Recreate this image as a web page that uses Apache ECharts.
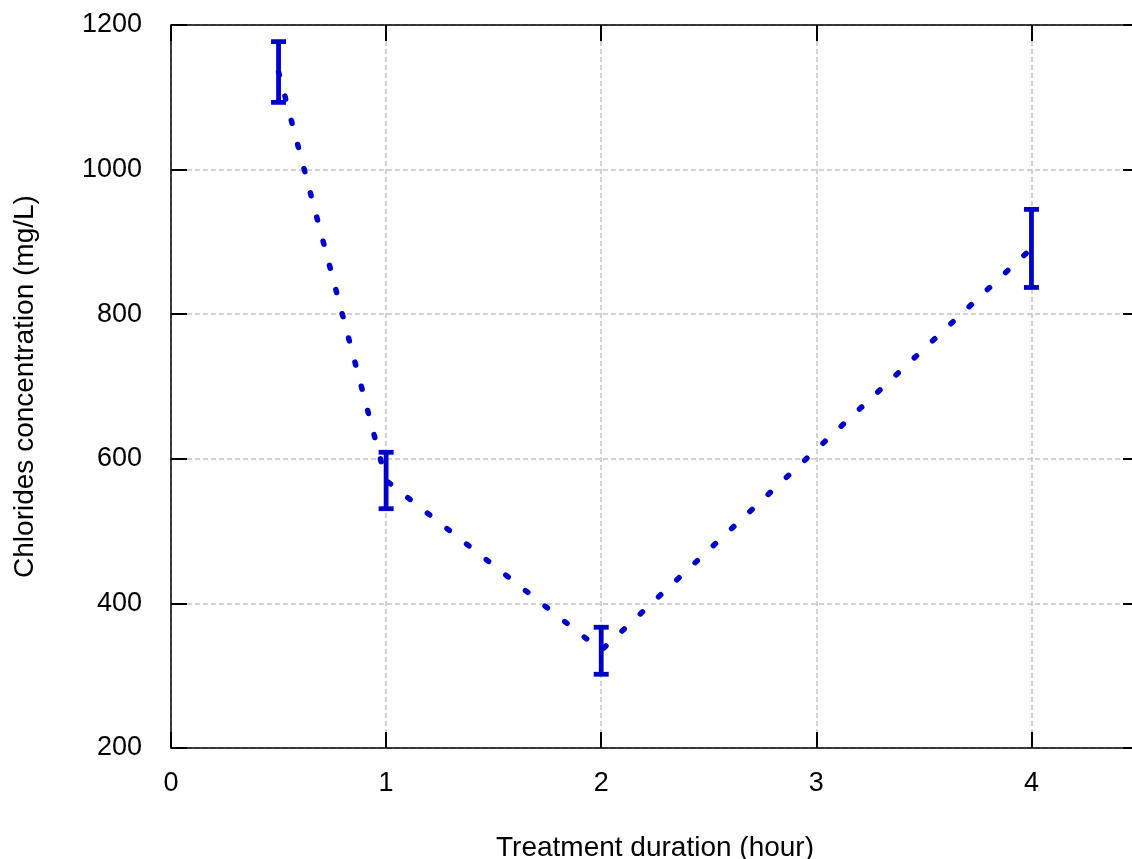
<!DOCTYPE html>
<html>
<head>
<meta charset="utf-8">
<script src="https://cdn.jsdelivr.net/npm/echarts@6/dist/echarts.min.js"></script>
<style>
  html, body { margin: 0; padding: 0; background: #fff; }
  #chart { width: 1132px; height: 859px; }
</style>
</head>
<body>
<div id="chart"></div>
<script>
// treatment time (hour)
var hours = [0.5, 1, 2, 4];
// mean chloride concentration (mg/L)
var chlorides = [1135, 570, 335, 891];
// error bar ends
var errLow = [1093, 531, 302, 837];
var errHigh = [1177, 609, 367, 945];

var blue = '#0000cc';
var font = 'Liberation Sans, Arial, sans-serif';

var myChart = echarts.init(document.getElementById('chart'));

var lineData = [];
var errData = [];
for (var i = 0; i < hours.length; i++) {
    lineData.push([hours[i], chlorides[i]]);
    errData.push([hours[i], errLow[i], errHigh[i]]);
}

function renderErr(params, api) {
    var lo = api.coord([api.value(0), api.value(1)]);
    var hi = api.coord([api.value(0), api.value(2)]);
    var w = 7.5;
    var st = { stroke: blue, lineWidth: 4.8 };
    return {
        type: 'group',
        children: [
            { type: 'line', shape: { x1: lo[0], y1: lo[1], x2: hi[0], y2: hi[1] }, style: st },
            { type: 'line', shape: { x1: hi[0] - w, y1: hi[1], x2: hi[0] + w, y2: hi[1] }, style: st },
            { type: 'line', shape: { x1: lo[0] - w, y1: lo[1], x2: lo[0] + w, y2: lo[1] }, style: st }
        ]
    };
}

// each axis gets its own copy
function axLine() { return { show: true, onZero: false, lineStyle: { color: '#000', width: 1.5 } }; }
function axTick() { return { show: true, inside: true, length: 16, lineStyle: { color: '#000', width: 2 } }; }
function grid() { return { show: true, lineStyle: { color: '#c4c4c4', width: 1.5, type: [5, 3] } }; }

option = {
    animation: false,
    grid: { left: 171, right: -7, top: 25, bottom: 111, outerBoundsMode: 'none', containLabel: false },
    xAxis: [
        {
            type: 'value',
            min: 0,
            max: 4.5,
            interval: 1,
            name: 'Treatment duration (hour)',
            nameLocation: 'middle',
            nameGap: 86,
            nameTextStyle: { fontFamily: font, fontSize: 28, color: '#000' },
            axisLine: axLine(),
            axisTick: axTick(),
            axisLabel: {
                margin: 22, fontFamily: font, fontSize: 27, color: '#000',
                showMaxLabel: false,
                formatter: function (v) { return v % 1 === 0 ? String(v) : ''; }
            },
            splitLine: grid()
        },
        {
            type: 'value',
            position: 'top',
            min: 0,
            max: 4.5,
            interval: 1,
            axisLine: axLine(),
            axisTick: axTick(),
            axisLabel: { show: false },
            splitLine: { show: false }
        }
    ],
    yAxis: [
        {
            type: 'value',
            position: 'left',
            min: 200,
            max: 1200,
            interval: 200,
            name: 'Chlorides concentration (mg/L)',
            nameLocation: 'middle',
            nameGap: 132,
            nameTextStyle: { fontFamily: font, fontSize: 28, color: '#000' },
            axisLine: axLine(),
            axisTick: axTick(),
            axisLabel: {
                margin: 29, fontFamily: font, fontSize: 27, color: '#000',
                formatter: function (v) { return String(v); }
            },
            splitLine: grid()
        },
        {
            type: 'value',
            position: 'right',
            min: 200,
            max: 1200,
            interval: 200,
            axisLine: axLine(),
            axisTick: axTick(),
            axisLabel: { show: false },
            splitLine: { show: false }
        }
    ],
    series: [
        {
            type: 'line',
            data: lineData,
            symbol: 'none',
            lineStyle: { color: blue, width: 5.5, type: [3, 22], cap: 'round' },
            z: 2
        },
        {
            type: 'custom',
            data: errData,
            renderItem: renderErr,
            encode: { x: 0, y: [1, 2] },
            z: 3
        }
    ]
};
myChart.setOption(option);
</script>
</body>
</html>
